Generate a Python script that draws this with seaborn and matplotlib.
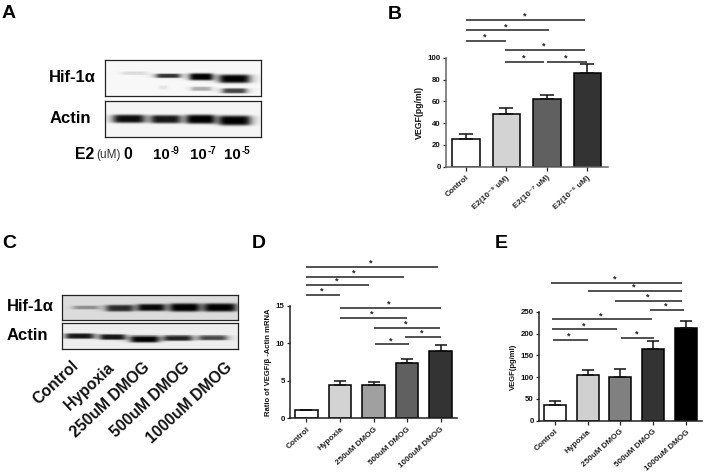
# VEGF / Hif-1a figure: two blots and three bar panels
import numpy as np
import pandas as pd
import matplotlib
matplotlib.use('Agg')
import matplotlib.pyplot as plt
import seaborn as sns

sns.set_theme(style='ticks')
plt.rcParams['font.family'] = ['Liberation Sans', 'DejaVu Sans']
plt.rcParams['font.weight'] = 'bold'

W, H = 705, 474

# panel B
b_labels = ['Control', 'E2(10⁻⁹ uM)', 'E2(10⁻⁷ uM)', 'E2(10⁻⁵ uM)']
b_values = [25, 48.5, 62, 86]
b_tops = [30, 54, 66, 94]
b_colors = ['#ffffff', '#d3d3d3', '#606060', '#333333']
b_ticks = [0, 20, 40, 60, 80, 100]
# start, end, height of each significance line
b_sig = [(0, 2.95, 134.6), (0, 2.05, 125), (0, 1, 115.2), (0.97, 2.95, 106.8),
         (0.97, 1.93, 96), (2.0, 2.98, 96)]

# panel D
d_labels = ['Control', 'Hypoxia', '250uM DMOG', '500uM DMOG', '1000uM DMOG']
d_values = [1.1, 4.5, 4.45, 7.4, 9.0]
d_tops = [1.15, 5.0, 4.9, 7.95, 9.8]
d_colors = ['#ffffff', '#d3d3d3', '#a0a0a0', '#606060', '#333333']
d_ticks = [0, 5, 10, 15]
d_sig = [(0, 3.92, 20.15), (0, 2.9, 18.87), (-0.02, 1.88, 17.76), (0, 1, 16.42),
         (1, 4, 14.73), (1, 3, 13.4), (2, 3.98, 12.07), (2.95, 4, 10.79), (2.05, 3.05, 9.85)]

# panel E
e_labels = d_labels
e_values = [35, 104, 100, 165, 214]
e_tops = [45, 116, 118, 184, 229]
e_colors = ['#ffffff', '#d0d0d0', '#808080', '#333333', '#000000']
e_ticks = [0, 50, 100, 150, 200, 250]
e_sig = [(-0.13, 3.89, 317.4), (1, 3.89, 299), (1.85, 3.88, 276), (2.91, 3.93, 255),
         (-0.09, 2.96, 233), (-0.08, 1.91, 210), (-0.05, 1, 185), (2.03, 3.02, 190)]

# blot bands: centre x, half width, centre y, thickness, darkness (pixels inside the frame)
a_hif = [(29, 12.5, 12.7, 1.8, 0.12), (62.7, 12, 15.3, 2.2, 0.8), (95.7, 11.5, 16.3, 3.6, 1.0),
         (129, 15, 18.3, 4.3, 1.0), (95.7, 10, 28.3, 2.2, 0.3), (129, 12, 30.3, 2.6, 0.72),
         (58, 4, 27, 2, 0.08)]
a_actin = [(23.3, 15.5, 17.3, 4.2, 0.95), (60.3, 14.5, 17.7, 4.2, 0.9),
           (95, 14, 17.7, 4.6, 1.0), (129.3, 15.5, 19, 5, 1.0)]
c_hif = [(24, 12.5, 12, 1.9, 0.35), (57.7, 13.5, 12.7, 3.4, 0.8), (89.3, 13.5, 12, 3.6, 0.95),
         (122.7, 14.5, 12, 4.2, 1.0), (158.3, 16, 12, 4.2, 1.0)]
c_actin = [(17.7, 14, 12.3, 2.5, 0.9), (50.7, 12.5, 13.3, 2.6, 0.9), (82.7, 14, 15.3, 3.3, 1.0),
           (116, 14, 14.3, 2.6, 0.85), (151, 14, 14, 2.3, 0.7)]

c_lanes = ['Control', 'Hypoxia', '250uM DMOG', '500uM DMOG', '1000uM DMOG']
c_lane_ends = [(71, 358), (107, 360), (142, 360), (182, 360), (225, 360)]

fig = plt.figure(figsize=(W / 100, H / 100), dpi=100, facecolor='white')


def px_axes(left, top, right, bottom):
    return fig.add_axes([left / W, 1 - bottom / H, (right - left) / W, (bottom - top) / H])


def px_text(x, y, s, **kw):
    kw.setdefault('color', 'black')
    return fig.text(x / W, 1 - y / H, s, **kw)


def blot(left, top, right, bottom, bands, back):
    ax = px_axes(left, top, right, bottom)
    cells = 2
    ny, nx = int((bottom - top) * cells), int((right - left) * cells)
    yy, xx = np.mgrid[0:ny, 0:nx] / cells
    img = np.full((ny, nx), back)
    for cx, hw, cy, th, dark in bands:
        across = 1 / (1 + ((xx - cx) / hw) ** 6)
        down = np.exp(-((yy - cy) / th) ** 4)
        img -= back * dark * across * down
    sns.heatmap(np.clip(img, 0, 1), ax=ax, cmap='gray', vmin=0, vmax=1, cbar=False,
                xticklabels=False, yticklabels=False)
    for s in ax.spines.values():
        s.set_visible(True)
        s.set_color('#222222')
        s.set_linewidth(0.9)
    return ax


def bars(box, labels, values, tops, colors, ticks, sig, ylabel, ylab_size, cap, rot, axis_color):
    ax = px_axes(*box)
    df = pd.DataFrame({'group': labels, 'value': values})
    sns.barplot(data=df, x='group', y='value', hue='group', palette=colors, dodge=False,
                legend=False, width=0.67, edgecolor='black', linewidth=1.1, saturation=1,
                errorbar=None, ax=ax)
    err = np.array(tops) - np.array(values)
    ax.errorbar(range(len(values)), values, yerr=[np.zeros(len(err)), err], fmt='none',
                ecolor='#111111', elinewidth=1.1, capsize=cap, capthick=1.1)
    ax.set_xlim(-0.5, len(values) - 0.5)
    ax.set_ylim(ticks[0], ticks[-1])
    ax.set_yticks(ticks)
    ax.set_xticks(range(len(labels)))
    ax.set_xticklabels(labels, rotation=rot, ha='right', rotation_mode='anchor', fontsize=5.9,
                       fontweight='bold', color='#222222')
    ax.tick_params(axis='y', length=2.5, width=0.9, pad=1, labelsize=5.7, labelcolor='#111111', color='#222222')
    ax.tick_params(axis='x', length=3, width=0.9, pad=2.5, color='#222222')
    ax.set_xlabel('')
    ax.set_ylabel(ylabel, fontsize=ylab_size, fontweight='bold', color='#111111', labelpad=2.5)
    sns.despine(ax=ax)
    for s in ['left', 'bottom']:
        ax.spines[s].set_linewidth(1.1)
        ax.spines[s].set_color(axis_color)
    for x0, x1, y in sig:
        ax.plot([x0, x1], [y, y], color='#222222', lw=1.1, clip_on=False, solid_capstyle='butt')
        ax.annotate('*', ((x0 + x1) / 2, y), xytext=(-1, -0.5), textcoords='offset points',
                    ha='center', va='bottom', fontsize=6.5, color='#222222', annotation_clip=False)
    return ax


# blots
blot(105, 60, 261, 95.7, a_hif, 0.97)
blot(105, 101, 261, 137, a_actin, 0.96)
blot(61.7, 295, 238.3, 320.3, c_hif, 0.86)
blot(61.7, 323.3, 238.3, 348.7, c_actin, 0.93)

# bar panels
bars((445.7, 57.7, 607.7, 166.7), b_labels, b_values, b_tops, b_colors, b_ticks, b_sig,
     'VEGF(pg/ml)', 6.3, 5, 42, '#666666')
bars((289.7, 305.7, 457.3, 418.3), d_labels, d_values, d_tops, d_colors, d_ticks, d_sig,
     'Ratio of VEGF/β -Actin mRNA', 5.5, 4.5, 42, '#222222')
bars((538.5, 312, 702.3, 420.7), e_labels, e_values, e_tops, e_colors, e_ticks, e_sig,
     'VEGF(pg/ml)', 5.5, 4.5, 42, '#222222')

# blot labels
blot_font = dict(fontsize=12, fontweight='bold', ha='center', va='center')
px_text(72.7, 77.7, 'Hif-1α', **blot_font)
px_text(70.7, 119, 'Actin', **blot_font)
px_text(30, 306.7, 'Hif-1α', **blot_font)
px_text(27.7, 335, 'Actin', **blot_font)

px_text(75, 159, 'E2', fontsize=11.4, fontweight='bold')
px_text(96.5, 158, '(uM)', fontsize=8.5, fontweight='normal', color='#333333')
px_text(123, 159, '0', fontsize=11.4, fontweight='bold')
for x, power in [(153, '-9'), (190, '-7'), (224, '-5')]:
    px_text(x, 159, '10', fontsize=10.8, fontweight='bold')
    px_text(x + 17.2, 154.5, power, fontsize=7, fontweight='bold')

for name, (x, y) in zip(c_lanes, c_lane_ends):
    px_text(x, y, name, fontsize=11.3, fontweight='bold', rotation=43, ha='right', va='top',
            rotation_mode='anchor', color='#111111')

# panel letters
for letter, x, y in [('A', 2, 18), ('B', 388, 19), ('C', 2, 248), ('D', 252, 248), ('E', 495, 248)]:
    px_text(x, y, letter, fontsize=14, fontweight='bold')

fig.savefig('out.png', dpi=100)
